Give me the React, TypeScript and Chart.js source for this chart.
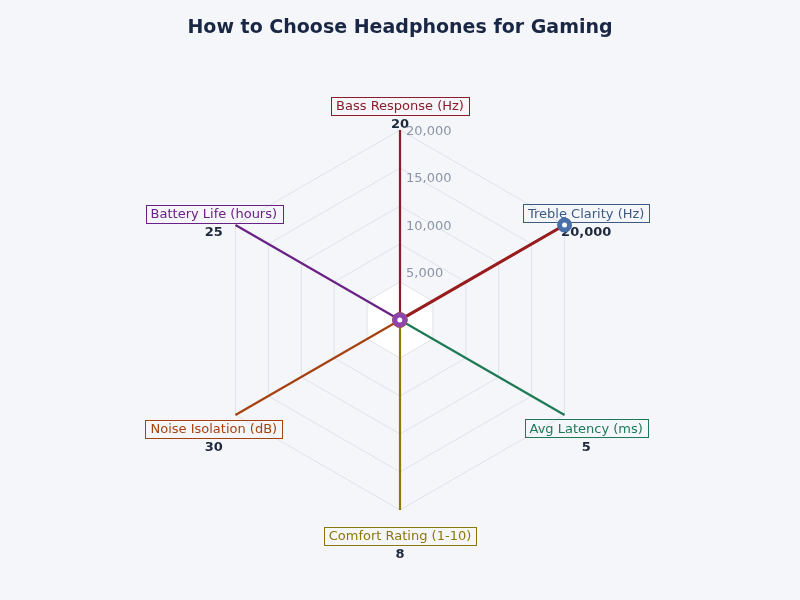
import React, { useEffect, useRef } from 'react';
import Chart from 'chart.js/auto';

// chart data
const axisLabels = [
	'Bass Response (Hz)',
	'Treble Clarity (Hz)',
	'Avg Latency (ms)',
	'Comfort Rating (1-10)',
	'Noise Isolation (dB)',
	'Battery Life (hours)',
];
const axisValues = [20, 20000, 5, 8, 30, 25];
const tickValues = [5000, 10000, 15000, 20000];

const axisColors = ['#8b1c2c', '#3d5a80', '#1e7a55', '#8a7808', '#a5420f', '#6a2185'];
const pointColors = ['#9b1c1c', '#4a6fa8', '#23895f', '#9a8610', '#b8501a', '#8e44ad'];

const FONT = 'DejaVu Sans';

const fmt = (v: number) => v.toLocaleString('en-US');

// white fill of the innermost ring
const innerFill = {
	id: 'innerFill',
	beforeDraw(chart: any) {
		const scale = chart.scales.r;
		const ctx = chart.ctx;
		const d = scale.getDistanceFromCenterForValue(4000);
		ctx.save();
		ctx.beginPath();
		for (let i = 0; i < axisLabels.length; i++) {
			const p = scale.getPointPosition(i, d);
			if (i === 0) ctx.moveTo(p.x, p.y);
			else ctx.lineTo(p.x, p.y);
		}
		ctx.closePath();
		ctx.fillStyle = '#ffffff';
		ctx.fill();
		ctx.restore();
	},
};

// tick labels + boxed axis labels with values
const labelsPlugin = {
	id: 'labelsPlugin',
	beforeDatasetsDraw(chart: any) {
		const scale = chart.scales.r;
		const ctx = chart.ctx;
		ctx.save();

		ctx.font = `13px "${FONT}"`;
		ctx.fillStyle = '#8a94a6';
		ctx.textAlign = 'left';
		ctx.textBaseline = 'middle';
		tickValues.forEach((v) => {
			const y = scale.yCenter - scale.getDistanceFromCenterForValue(v) + 1.5;
			ctx.fillText(fmt(v), scale.xCenter + 6, y);
		});

		axisLabels.forEach((label, i) => {
			const p = scale.getPointPosition(i, scale.drawingArea + 25);
			const cy = p.y + 1;
			ctx.font = `13px "${FONT}"`;
			ctx.textAlign = 'center';
			ctx.textBaseline = 'middle';
			const w = ctx.measureText(label).width + 10;
			const h = 18;
			ctx.strokeStyle = axisColors[i];
			ctx.lineWidth = 1;
			ctx.strokeRect(Math.round(p.x - w / 2) + 0.5, Math.round(cy - h / 2) + 0.5, Math.round(w), h);
			ctx.fillStyle = axisColors[i];
			ctx.fillText(label, p.x, cy + 1);

			ctx.font = `bold 13px "${FONT}"`;
			ctx.fillStyle = '#1e2a3c';
			ctx.fillText(fmt(axisValues[i]), p.x, cy + 19);
		});
		ctx.restore();
	},
};

const App: React.FC = () => {
	const chartRef = useRef<HTMLCanvasElement | null>(null);
	const chartInstanceRef = useRef<Chart<'radar'> | null>(null);

	useEffect(() => {
		document.body.style.margin = '0';
		if (!chartRef.current) return;
		const ctx = chartRef.current.getContext('2d');
		if (!ctx) return;

		if (chartInstanceRef.current) {
			chartInstanceRef.current.destroy();
		}

		chartInstanceRef.current = new Chart(ctx, {
			type: 'radar',
			data: {
				labels: axisLabels,
				datasets: [
					{
						data: axisValues,
						borderColor: '#9b1c1c',
						borderWidth: 3,
						backgroundColor: 'rgba(155, 28, 28, 0.08)',
						fill: true,
						pointRadius: 5,
						pointBorderWidth: 5,
						pointBorderColor: pointColors,
						pointBackgroundColor: '#ffffff',
					},
				],
			},
			options: {
				animation: false,
				responsive: true,
				maintainAspectRatio: false,
				font: { family: FONT },
				layout: { padding: { top: 0, bottom: 90, left: 0, right: 0 } },
				scales: {
					r: {
						min: 0,
						max: 20000,
						ticks: { stepSize: 4000, display: false },
						grid: { color: '#dfe2e9', lineWidth: 1 },
						angleLines: {
							color: (c: any) => axisColors[c.index],
							lineWidth: 2.2,
						},
						pointLabels: { display: false },
					},
				},
				plugins: {
					legend: { display: false },
					tooltip: { enabled: false },
					title: {
						display: true,
						text: 'How to Choose Headphones for Gaming',
						color: '#1a2744',
						font: { family: FONT, size: 19, weight: 'bold' },
						padding: { top: 17, bottom: 90.2 },
					},
				},
			},
			plugins: [innerFill, labelsPlugin],
		} as any);

		return () => {
			if (chartInstanceRef.current) {
				chartInstanceRef.current.destroy();
				chartInstanceRef.current = null;
			}
		};
	}, []);

	return (
		<div style={{ width: 800, height: 600, background: '#f5f6fa', position: 'relative' }}>
			<canvas ref={chartRef} />
		</div>
	);
};

export default App;
